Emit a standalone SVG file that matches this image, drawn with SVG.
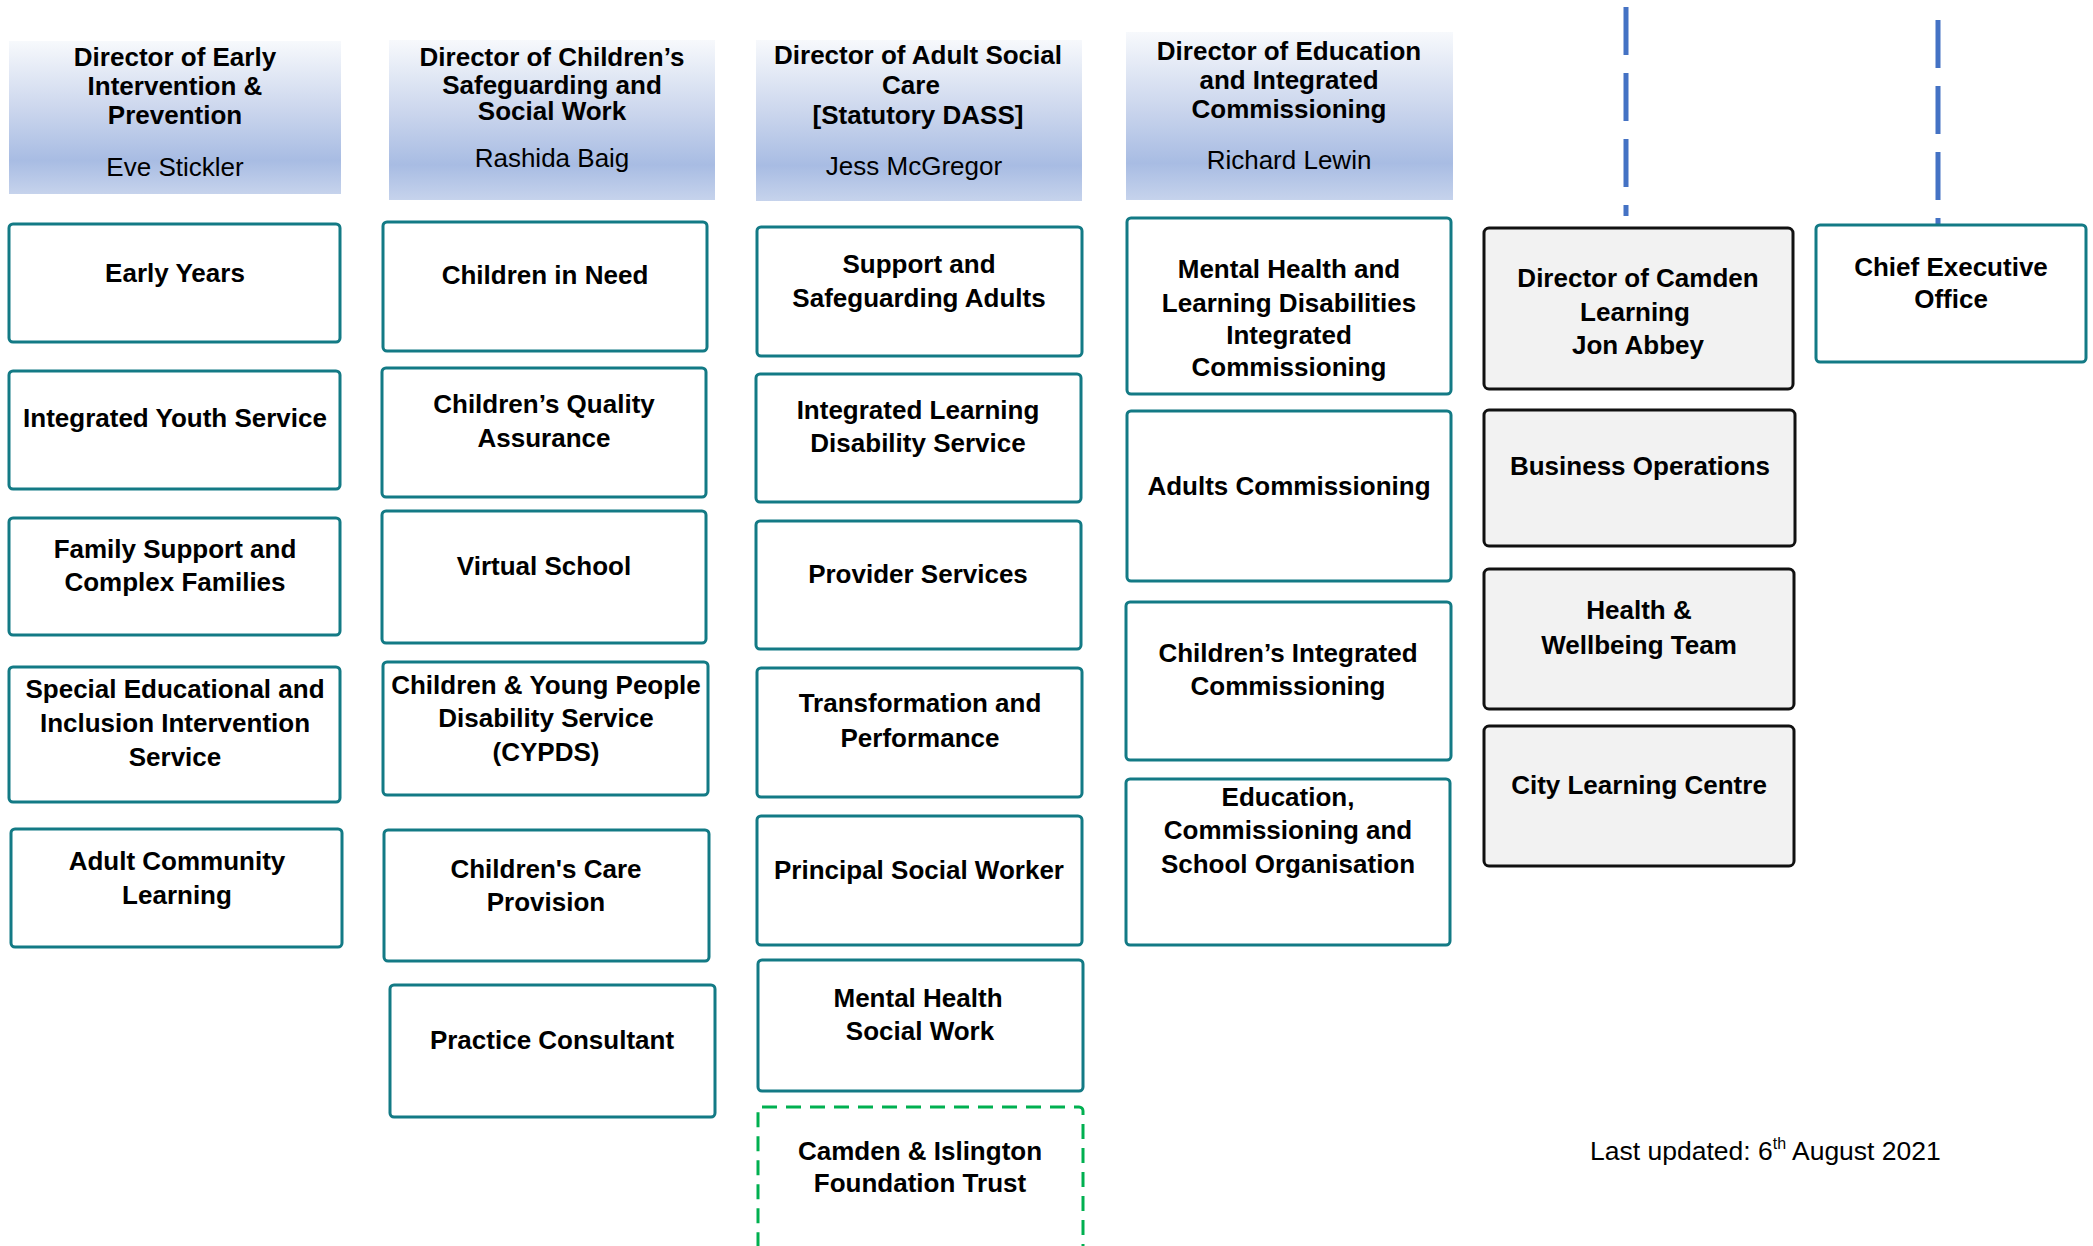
<svg xmlns="http://www.w3.org/2000/svg" width="2093" height="1246" viewBox="0 0 2093 1246">
<defs>
<linearGradient id="hdr" x1="0" y1="0" x2="0" y2="1">
<stop offset="0" stop-color="#F7F9FC"/>
<stop offset="0.45" stop-color="#CBD6ED"/>
<stop offset="0.78" stop-color="#A8BCE3"/>
<stop offset="1" stop-color="#C6D3EC"/>
</linearGradient>
</defs>
<style>
.hdr{fill:url(#hdr);stroke:none}
.box{fill:#FFFFFF;stroke:#137A85;stroke-width:3}
.grey{fill:#F2F2F2;stroke:#111111;stroke-width:3}
.ext{fill:none;stroke:#00B050;stroke-width:3;stroke-dasharray:15 9}
.conn{stroke:#4472C4;stroke-width:5;stroke-dasharray:48 18;fill:none}
text{font-family:"Liberation Sans",Arial,sans-serif;font-size:26px;fill:#000;text-anchor:middle}
.b{font-weight:bold}
.foot{text-anchor:start;font-size:26.5px}
</style>
<rect width="2093" height="1246" fill="#FFFFFF"/>

<g id="connectors">
<line class="conn" x1="1626" y1="7" x2="1626" y2="216"/>
<line class="conn" x1="1938" y1="20" x2="1938" y2="226"/>
</g>

<g id="hdr-early-intervention">
<rect class="hdr" x="9" y="41" width="332" height="153"/>
<text class="b" x="175" y="66">Director of Early</text>
<text class="b" x="175" y="95">Intervention &amp;</text>
<text class="b" x="175" y="124">Prevention</text>
<text x="175" y="176">Eve Stickler</text>
</g>
<g id="hdr-childrens-safeguarding">
<rect class="hdr" x="389" y="40" width="326" height="160"/>
<text class="b" x="552" y="66">Director of Children’s</text>
<text class="b" x="552" y="94">Safeguarding and</text>
<text class="b" x="552" y="120">Social Work</text>
<text x="552" y="167">Rashida Baig</text>
</g>
<g id="hdr-adult-social-care">
<rect class="hdr" x="756" y="40" width="326" height="161"/>
<text class="b" x="918" y="64">Director of Adult Social</text>
<text class="b" x="911" y="94">Care</text>
<text class="b" x="918" y="124">[Statutory DASS]</text>
<text x="914" y="175">Jess McGregor</text>
</g>
<g id="hdr-education">
<rect class="hdr" x="1126" y="32" width="327" height="168"/>
<text class="b" x="1289" y="60">Director of Education</text>
<text class="b" x="1289" y="89">and Integrated</text>
<text class="b" x="1289" y="118">Commissioning</text>
<text x="1289" y="169">Richard Lewin</text>
</g>

<g id="early-years"><rect class="box" x="9" y="224" width="331" height="118" rx="4"/>
<text class="b" x="175" y="282">Early Years</text></g>
<g id="integrated-youth"><rect class="box" x="9" y="371" width="331" height="118" rx="4"/>
<text class="b" x="175" y="427">Integrated Youth Service</text></g>
<g id="family-support"><rect class="box" x="9" y="518" width="331" height="117" rx="4"/>
<text class="b" x="175" y="558">Family Support and</text>
<text class="b" x="175" y="591">Complex Families</text></g>
<g id="send"><rect class="box" x="9" y="667" width="331" height="135" rx="4"/>
<text class="b" x="175" y="698">Special Educational and</text>
<text class="b" x="175" y="732">Inclusion Intervention</text>
<text class="b" x="175" y="766">Service</text></g>
<g id="adult-community"><rect class="box" x="11" y="829" width="331" height="118" rx="4"/>
<text class="b" x="177" y="870">Adult Community</text>
<text class="b" x="177" y="904">Learning</text></g>

<g id="children-in-need"><rect class="box" x="383" y="222" width="324" height="129" rx="4"/>
<text class="b" x="545" y="284">Children in Need</text></g>
<g id="childrens-qa"><rect class="box" x="382" y="368" width="324" height="129" rx="4"/>
<text class="b" x="544" y="413">Children’s Quality</text>
<text class="b" x="544" y="447">Assurance</text></g>
<g id="virtual-school"><rect class="box" x="382" y="511" width="324" height="132" rx="4"/>
<text class="b" x="544" y="575">Virtual School</text></g>
<g id="cypds"><rect class="box" x="383" y="662" width="325" height="133" rx="4"/>
<text class="b" x="546" y="694">Children &amp; Young People</text>
<text class="b" x="546" y="727">Disability Service</text>
<text class="b" x="546" y="761">(CYPDS)</text></g>
<g id="childrens-care"><rect class="box" x="384" y="830" width="325" height="131" rx="4"/>
<text class="b" x="546" y="878">Children's Care</text>
<text class="b" x="546" y="911">Provision</text></g>
<g id="practice-consultant"><rect class="box" x="390" y="985" width="325" height="132" rx="4"/>
<text class="b" x="552" y="1049">Practice Consultant</text></g>

<g id="support-safeguarding"><rect class="box" x="757" y="227" width="325" height="129" rx="4"/>
<text class="b" x="919" y="273">Support and</text>
<text class="b" x="919" y="307">Safeguarding Adults</text></g>
<g id="integrated-ld"><rect class="box" x="756" y="374" width="325" height="128" rx="4"/>
<text class="b" x="918" y="419">Integrated Learning</text>
<text class="b" x="918" y="452">Disability Service</text></g>
<g id="provider-services"><rect class="box" x="756" y="521" width="325" height="128" rx="4"/>
<text class="b" x="918" y="583">Provider Services</text></g>
<g id="transformation"><rect class="box" x="757" y="668" width="325" height="129" rx="4"/>
<text class="b" x="920" y="712">Transformation and</text>
<text class="b" x="920" y="747">Performance</text></g>
<g id="principal-sw"><rect class="box" x="757" y="816" width="325" height="129" rx="4"/>
<text class="b" x="919" y="879">Principal Social Worker</text></g>
<g id="mh-social-work"><rect class="box" x="758" y="960" width="325" height="131" rx="4"/>
<text class="b" x="918" y="1007">Mental Health</text>
<text class="b" x="920" y="1040">Social Work</text></g>
<g id="candi-trust"><rect class="ext" x="758" y="1107" width="325" height="170" rx="4"/>
<text class="b" x="920" y="1160">Camden &amp; Islington</text>
<text class="b" x="920" y="1192">Foundation Trust</text></g>

<g id="mh-ld-commissioning"><rect class="box" x="1127" y="218" width="324" height="176" rx="4"/>
<text class="b" x="1289" y="278">Mental Health and</text>
<text class="b" x="1289" y="312">Learning Disabilities</text>
<text class="b" x="1289" y="344">Integrated</text>
<text class="b" x="1289" y="376">Commissioning</text></g>
<g id="adults-commissioning"><rect class="box" x="1127" y="411" width="324" height="170" rx="4"/>
<text class="b" x="1289" y="495">Adults Commissioning</text></g>
<g id="childrens-integrated"><rect class="box" x="1126" y="602" width="325" height="158" rx="4"/>
<text class="b" x="1288" y="662">Children’s Integrated</text>
<text class="b" x="1288" y="695">Commissioning</text></g>
<g id="education-commissioning"><rect class="box" x="1126" y="779" width="324" height="166" rx="4"/>
<text class="b" x="1288" y="806">Education,</text>
<text class="b" x="1288" y="839">Commissioning and</text>
<text class="b" x="1288" y="873">School Organisation</text></g>

<g id="camden-learning"><rect class="grey" x="1484" y="228" width="309" height="161" rx="5"/>
<text class="b" x="1638" y="287">Director of Camden</text>
<text class="b" x="1635" y="321">Learning</text>
<text class="b" x="1638" y="354">Jon Abbey</text></g>
<g id="business-operations"><rect class="grey" x="1484" y="410" width="311" height="136" rx="5"/>
<text class="b" x="1640" y="475">Business Operations</text></g>
<g id="health-wellbeing"><rect class="grey" x="1484" y="569" width="310" height="140" rx="5"/>
<text class="b" x="1639" y="619">Health &amp;</text>
<text class="b" x="1639" y="654">Wellbeing Team</text></g>
<g id="city-learning"><rect class="grey" x="1484" y="726" width="310" height="140" rx="5"/>
<text class="b" x="1639" y="794">City Learning Centre</text></g>

<g id="chief-executive"><rect class="box" x="1816" y="225" width="270" height="137" rx="4"/>
<text class="b" x="1951" y="276">Chief Executive</text>
<text class="b" x="1951" y="308">Office</text></g>

<text class="foot" x="1590" y="1160">Last updated: 6<tspan font-size="16" dy="-11">th</tspan><tspan dy="11"> August 2021</tspan></text>
</svg>
